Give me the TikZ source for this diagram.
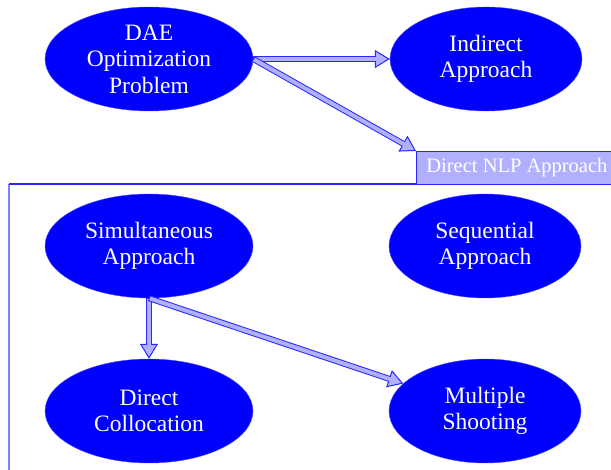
\documentclass[tikz,border=0pt]{standalone}
\usepackage{fontspec}
\setmainfont{Liberation Serif}
\usetikzlibrary{arrows.meta,shapes.geometric}

\definecolor{ovalblue}{RGB}{0,0,255}
\definecolor{paleblue}{RGB}{176,176,255}
\definecolor{edgeblue}{RGB}{40,40,255}
\definecolor{frameblue}{RGB}{128,128,255}

\begin{document}
\begin{tikzpicture}[x=1pt,y=-1pt,
    oval/.style={ellipse,fill=ovalblue,draw=ovalblue!70,text=white,align=center,
        minimum height=104pt,inner sep=0pt,font=\fontsize{23.5}{26.5}\selectfont},
    leftoval/.style={oval,minimum width=208pt},
    rightoval/.style={oval,minimum width=192pt},
    fatarrow/.style={draw=edgeblue,line width=6pt,
        -{Triangle[length=15pt 0,width=18pt 0,line width=1pt,fill=paleblue]},
        postaction={draw=paleblue,line width=4pt,shorten >=13pt,shorten <=1pt,-}}]
\useasboundingbox (0,0) rectangle (611,470);

% Frame of the direct approach
\draw[frameblue,line width=1.2pt] (9,184) -- (9,470);
\draw[edgeblue,line width=1.2pt] (9,184) -- (611,184);
\node[anchor=north west,fill=paleblue,draw=edgeblue,line width=0.8pt,text=white,
    minimum height=33pt,inner xsep=10pt,font=\fontsize{20.5}{24}\selectfont]
    (nlp) at (416,151) {Direct NLP Approach\hspace*{20pt}};

% Problem and approaches
\node[leftoval] (dae) at (149,59) {DAE\\Optimization\\Problem};
\node[rightoval] (indirect) at (486,59) {Indirect\\Approach};
\node[leftoval] (simult) at (149,246) {Simultaneous\\Approach};
\node[rightoval] (sequen) at (485,246) {Sequential\\Approach};
\node[leftoval] (colloc) at (149,411) {Direct\\Collocation};
\node[rightoval] (shoot) at (485,411) {Multiple\\Shooting};

% Arrows
\draw[fatarrow] (dae.east) -- (indirect.west);
\draw[fatarrow] (dae.east) -- (nlp.north west);
\draw[fatarrow] (simult.south) -- (colloc.north);
\draw[fatarrow] (simult.south) -- (shoot);
\end{tikzpicture}
\end{document}
